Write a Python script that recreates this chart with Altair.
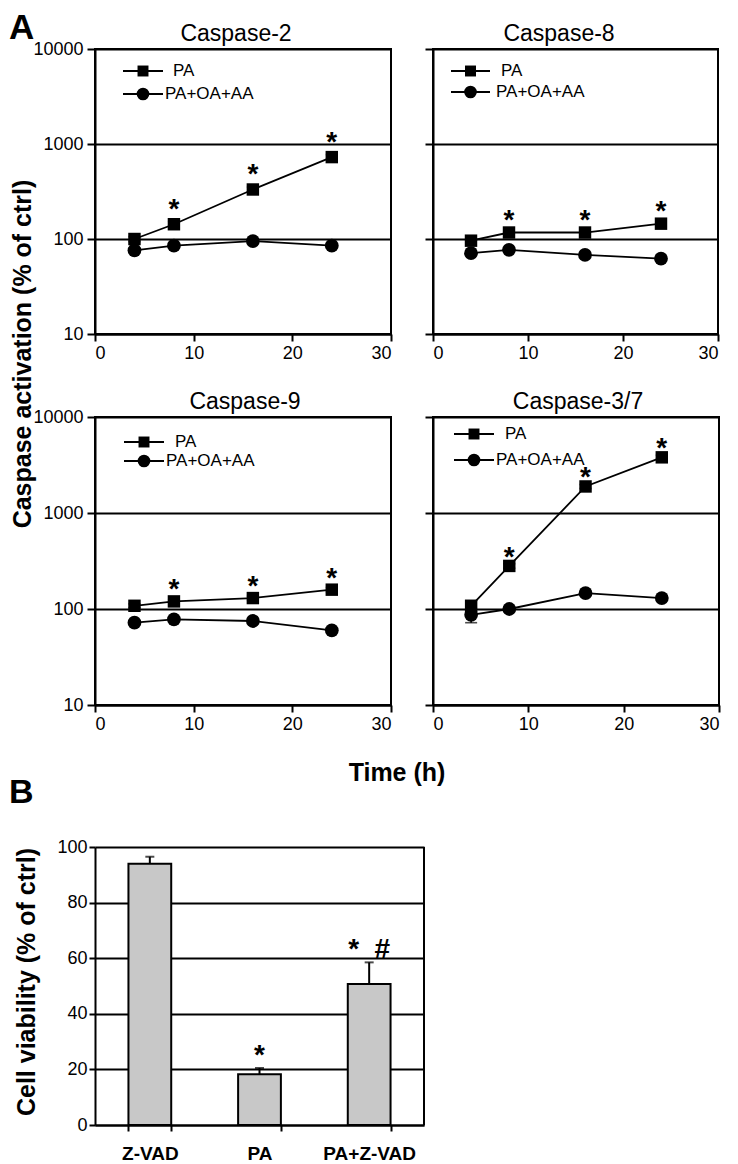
import altair as alt
import pandas as pd

FONT = "Liberation Sans"

# ---------------- data ----------------
TIMES = [4, 8, 16, 24]
SERIES = ["PA", "PA+OA+AA"]
PANEL_TITLES = ["Caspase-2", "Caspase-8", "Caspase-9", "Caspase-3/7"]

CASP2_PA = [100, 143, 332, 728]
CASP2_PA_ERR = [6, 10, 20, 45]
CASP2_MIX = [76, 85, 95, 85]
CASP2_MIX_ERR = [4, 4, 5, 4]
CASP2_SIG = [0, 1, 1, 1]

CASP8_PA = [96, 117, 117, 145]
CASP8_PA_ERR = [8, 6, 6, 10]
CASP8_MIX = [71, 77, 68, 62]
CASP8_MIX_ERR = [4, 3, 3, 3]
CASP8_SIG = [0, 1, 1, 1]

CASP9_PA = [108, 120, 130, 159]
CASP9_PA_ERR = [5, 5, 6, 8]
CASP9_MIX = [72, 78, 75, 60]
CASP9_MIX_ERR = [3, 3, 3, 3]
CASP9_SIG = [0, 1, 1, 1]

CASP37_PA = [108, 281, 1890, 3800]
CASP37_PA_ERR = [14, 15, 90, 200]
CASP37_MIX = [87, 100, 146, 130]
CASP37_MIX_ERR = [15, 4, 6, 6]
CASP37_SIG = [0, 1, 1, 1]

X_TICKS = [0, 10, 20, 30]
Y_TICKS = [10, 100, 1000, 10000]

BAR_GROUPS = ["Z-VAD", "PA", "PA+Z-VAD"]
BAR_VALUES = [94, 18.3, 50.7]
BAR_ERR = [2.5, 2.2, 7.8]
BAR_SIG = ["", "*", "*\u00a0\u00a0#"]
BAR_TICKS = [0, 20, 40, 60, 80, 100]

Y_TITLE = "Caspase activation (% of ctrl)"
X_TITLE = "Time (h)"
BAR_Y_TITLE = "Cell viability (% of ctrl)"

LW = 2


def text_layer(label, x, y, size, bold=True, angle=0, align="center", baseline="middle"):
    kw = dict(font=FONT, fontSize=size, fontWeight="bold" if bold else "normal",
              color="black", align=align, baseline=baseline)
    if angle:
        kw["angle"] = angle
    return alt.Chart(pd.DataFrame({"t": [label]})).mark_text(**kw).encode(
        x=alt.value(x), y=alt.value(y), text="t:N")


def panel(title, title_x, pa, pa_err, mix, mix_err, sig, width, height, y_labels, leg,
          star_dy, extras):
    df = pd.DataFrame({
        "time": TIMES * 2,
        "series": [SERIES[0]] * len(TIMES) + [SERIES[1]] * len(TIMES),
        "value": pa + mix,
        "lo": [v - e for v, e in zip(pa, pa_err)] + [v - e for v, e in zip(mix, mix_err)],
        "hi": [v + e for v, e in zip(pa, pa_err)] + [v + e for v, e in zip(mix, mix_err)],
        "sig": ["*" if s else "" for s in sig] + [""] * len(TIMES),
    })
    xs = alt.Scale(domain=[0, 30], nice=False)
    ys = alt.Scale(type="log", domain=[10, 10000], nice=False)
    xaxis = alt.Axis(values=X_TICKS, title=None, grid=False, tickSize=7, labelPadding=3)
    yaxis = alt.Axis(values=Y_TICKS, format="d", title=None, grid=True, labels=y_labels,
                     tickSize=8, labelPadding=4)

    def X(f="time"):
        return alt.X(f + ":Q", scale=xs, axis=xaxis)

    def Y(f):
        return alt.Y(f + ":Q", scale=ys, axis=yaxis)

    base = alt.Chart(df)
    lines = base.mark_line(color="black", strokeWidth=1.8).encode(x=X(), y=Y("value"), detail="series:N")
    err = base.mark_rule(color="black", strokeWidth=1.6).encode(
        x=X(), y=Y("lo"), y2=alt.Y2("hi:Q", title=None))
    cap_lo = base.mark_tick(color="black", orient="horizontal", size=12, thickness=1.6).encode(x=X(), y=Y("lo"))
    cap_hi = base.mark_tick(color="black", orient="horizontal", size=12, thickness=1.6).encode(x=X(), y=Y("hi"))
    pts = base.mark_point(filled=True, color="black", opacity=1).encode(
        x=X(), y=Y("value"),
        shape=alt.Shape("series:N", scale=alt.Scale(domain=SERIES, range=["square", "circle"]), legend=None),
        size=alt.Size("series:N", scale=alt.Scale(domain=SERIES, range=[155, 190]), legend=None),
    )
    stars = base.mark_text(font=FONT, fontSize=28, fontWeight="bold", color="black",
                           baseline="alphabetic", dy=star_dy).encode(x=X(), y=Y("value"), text="sig:N")

    layers = [lines, err, cap_lo, cap_hi, pts, stars]
    x0, x1, tx_pa, tx_mix, y_pa, y_mix = leg
    mx = (x0 + x1) / 2
    for lab, yy, tx, shp, sz in [(SERIES[0], y_pa, tx_pa, "square", 120),
                                 (SERIES[1], y_mix, tx_mix, "circle", 160)]:
        d = alt.Chart(pd.DataFrame({"t": [lab]}))
        layers.append(d.mark_rule(color="black", strokeWidth=1.8).encode(
            x=alt.value(x0), x2=alt.value(x1), y=alt.value(yy)))
        layers.append(d.mark_point(filled=True, color="black", opacity=1, shape=shp, size=sz).encode(
            x=alt.value(mx), y=alt.value(yy)))
        layers.append(d.mark_text(font=FONT, fontSize=17, color="black", align="left",
                                  baseline="middle").encode(x=alt.value(tx), y=alt.value(yy), text="t:N"))
    layers.append(text_layer(title, title_x, -8, 23, bold=False, baseline="alphabetic"))
    layers += extras
    return alt.layer(*layers).properties(width=width, height=height)


p1 = panel(PANEL_TITLES[0], 141, CASP2_PA, CASP2_PA_ERR, CASP2_MIX, CASP2_MIX_ERR, CASP2_SIG,
           296, 285, True, (28, 68, 78, 70, 22, 45), -6,
           [text_layer("A", -86, -38, 35, align="left", baseline="top"),
            text_layer(Y_TITLE, -72, 305, 25, angle=270)])
p2 = panel(PANEL_TITLES[1], 126, CASP8_PA, CASP8_PA_ERR, CASP8_MIX, CASP8_MIX_ERR, CASP8_SIG,
           285, 285, False, (18, 57, 68, 63, 22, 43), -4, [])
p3 = panel(PANEL_TITLES[2], 150, CASP9_PA, CASP9_PA_ERR, CASP9_MIX, CASP9_MIX_ERR, CASP9_SIG,
           296, 288, True, (29, 69, 80, 71, 25, 44), -3,
           [text_layer(X_TITLE, 302, 356, 25)])
p4 = panel(PANEL_TITLES[3], 145, CASP37_PA, CASP37_PA_ERR, CASP37_MIX, CASP37_MIX_ERR, CASP37_SIG,
           286, 288, False, (21, 61, 72, 63, 17, 43), 0, [])

# ---------------- bar chart ----------------
bar_df = pd.DataFrame({
    "group": BAR_GROUPS,
    "value": BAR_VALUES,
    "hi": [v + e for v, e in zip(BAR_VALUES, BAR_ERR)],
    "sig": BAR_SIG,
})
BAR_W, BAR_H, BAR_TOP = 329, 337, 59
bx = alt.X("group:N", sort=BAR_GROUPS,
           scale=alt.Scale(paddingInner=0.61, paddingOuter=0.305),
           axis=alt.Axis(title=None, labelAngle=0, labelFontWeight="bold", labelFontSize=19,
                         tickBand="extent", tickSize=6, labelPadding=13, grid=False))
bys = alt.Scale(domain=[0, 100], range=[BAR_H, BAR_TOP], nice=False)
byaxis = alt.Axis(values=BAR_TICKS, title=None, grid=True, tickSize=6, labelPadding=2)
bbase = alt.Chart(bar_df)
bars = bbase.mark_bar(fill="#c8c8c8", stroke="black", strokeWidth=LW).encode(
    x=bx, y=alt.Y("value:Q", scale=bys, axis=byaxis))
berr = bbase.mark_rule(color="black", strokeWidth=LW).encode(
    x=bx, y=alt.Y("value:Q", scale=bys, axis=byaxis), y2=alt.Y2("hi:Q", title=None))
bcap = bbase.mark_tick(color="black", orient="horizontal", size=9, thickness=LW).encode(
    x=bx, y=alt.Y("hi:Q", scale=bys, axis=byaxis))
bstar = bbase.mark_text(font=FONT, fontSize=28, fontWeight="bold", color="black",
                        baseline="alphabetic", dy=-4).encode(
    x=bx, y=alt.Y("hi:Q", scale=bys, axis=byaxis), text="sig:N")
bright = alt.Chart(pd.DataFrame({"t": ["border"]})).mark_rule(color="black", strokeWidth=LW).encode(
    x=alt.value(BAR_W), y=alt.value(BAR_TOP), y2=alt.value(BAR_H))
bar = alt.layer(
    bars, berr, bcap, bstar, bright,
    text_layer("B", -86, 15, 34, align="left", baseline="alphabetic"),
    text_layer(BAR_Y_TITLE, -68, 194, 25, angle=270),
).properties(width=BAR_W, height=BAR_H, view=alt.ViewBackground(stroke="transparent"))

chart = alt.concat(
    p1, p2, p3, p4, bar, columns=2,
    spacing=alt.RowColnumber(row=83, column=9),
    bounds="flush", align="each",
).properties(
    padding=alt.Padding(top=2, left=0, right=0, bottom=0), background="white"
).configure_view(
    stroke="black", strokeWidth=LW
).configure_axis(
    domainColor="black", domainWidth=LW, tickColor="black", tickWidth=LW,
    labelColor="black", labelFont=FONT, labelFontSize=18,
    gridColor="black", gridWidth=LW, gridOpacity=1,
)

chart.save("out.html", embed_options={"renderer": "svg", "actions": False})
